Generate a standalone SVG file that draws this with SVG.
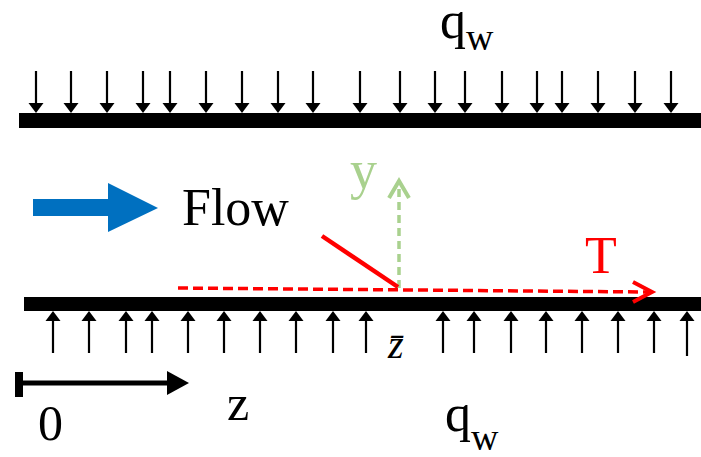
<svg xmlns="http://www.w3.org/2000/svg" width="701" height="457" viewBox="0 0 701 457">
<style>
.lbl{font-family:"Liberation Serif","Times New Roman",serif;fill:#000}
.flux{stroke:#000;stroke-width:2.2;fill:none}
.wall{fill:#000}
</style>
<defs>
<path id="hdDown" d="M-7.5,-10 L7.5,-10 L0,0 Z" fill="#000"/>
<path id="hdUp" d="M-7.5,10 L7.5,10 L0,0 Z" fill="#000"/>
</defs>
<rect width="701" height="457" fill="#fff"/>

<g id="top-wall">
<rect class="wall" x="19" y="113" width="682" height="15"/>
</g>
<g id="bottom-wall">
<rect class="wall" x="24" y="297" width="677" height="14"/>
</g>

<g id="connectors">
<g id="top-flux">
<path class="flux" d="M36,71V104M71,71V104M107,71V104M143,71V104M170,71V104M206,71V104M242,71V104M278,71V104M313,71V104M360,71V104M400,71V104M435,71V104M465,71V104M502,71V104M537,71V104M562,71V104M598,71V104M635,71V104M671,71V104"/>
<use href="#hdDown" x="36" y="113"/>
<use href="#hdDown" x="71" y="113"/>
<use href="#hdDown" x="107" y="113"/>
<use href="#hdDown" x="143" y="113"/>
<use href="#hdDown" x="170" y="113"/>
<use href="#hdDown" x="206" y="113"/>
<use href="#hdDown" x="242" y="113"/>
<use href="#hdDown" x="278" y="113"/>
<use href="#hdDown" x="313" y="113"/>
<use href="#hdDown" x="360" y="113"/>
<use href="#hdDown" x="400" y="113"/>
<use href="#hdDown" x="435" y="113"/>
<use href="#hdDown" x="465" y="113"/>
<use href="#hdDown" x="502" y="113"/>
<use href="#hdDown" x="537" y="113"/>
<use href="#hdDown" x="562" y="113"/>
<use href="#hdDown" x="598" y="113"/>
<use href="#hdDown" x="635" y="113"/>
<use href="#hdDown" x="671" y="113"/>
</g>
<g id="bottom-flux">
<path class="flux" d="M53,353V320M89,353V320M126,353V320M152,353V320M188,353V320M224,353V320M260,353V320M296,353V320M333,353V320M366,353V320M443,353V320M474,353V320M511,353V320M546,353V320M582,353V320M618,353V320M654,353V320M687,356V320"/>
<use href="#hdUp" x="53" y="311"/>
<use href="#hdUp" x="89" y="311"/>
<use href="#hdUp" x="126" y="311"/>
<use href="#hdUp" x="152" y="311"/>
<use href="#hdUp" x="188" y="311"/>
<use href="#hdUp" x="224" y="311"/>
<use href="#hdUp" x="260" y="311"/>
<use href="#hdUp" x="296" y="311"/>
<use href="#hdUp" x="333" y="311"/>
<use href="#hdUp" x="366" y="311"/>
<use href="#hdUp" x="443" y="311"/>
<use href="#hdUp" x="474" y="311"/>
<use href="#hdUp" x="511" y="311"/>
<use href="#hdUp" x="546" y="311"/>
<use href="#hdUp" x="582" y="311"/>
<use href="#hdUp" x="618" y="311"/>
<use href="#hdUp" x="654" y="311"/>
<use href="#hdUp" x="687" y="311"/>
</g>
<g id="T-axis">
<line x1="178" y1="288" x2="650" y2="292" stroke="#FF0000" stroke-width="3.5" stroke-dasharray="10,5"/>
<polyline points="633,282 652,292 633,302" fill="none" stroke="#FF0000" stroke-width="4"/>
</g>
<g id="y-axis">
<line x1="399" y1="288" x2="399" y2="182" stroke="#A9D18E" stroke-width="3.5" stroke-dasharray="8,5"/>
<polyline points="389,198 399,181 409,198" fill="none" stroke="#A9D18E" stroke-width="4"/>
</g>
<line id="profile" x1="322" y1="236" x2="398" y2="287" stroke="#FF0000" stroke-width="4.5"/>
</g>

<g id="flow">
<polygon points="33,199 108,199 108,183 158,208 108,232 108,216 33,216" fill="#0070C0"/>
<text class="lbl" x="182" y="225" font-size="52">Flow</text>
</g>

<g id="z-scale">
<rect x="15" y="372" width="8" height="25" fill="#000"/>
<line x1="23" y1="383" x2="168" y2="383" stroke="#000" stroke-width="5"/>
<polygon points="167,371 189,383 167,395" fill="#000"/>
<text class="lbl" x="38" y="440" font-size="50">0</text>
<text class="lbl" x="227" y="420" font-size="50">z</text>
</g>

<g id="labels">
<text class="lbl" x="440" y="38" font-size="52">q<tspan font-size="38" dy="12">w</tspan></text>
<text class="lbl" x="445" y="431" font-size="52">q<tspan font-size="38" dy="19">w</tspan></text>
<text class="lbl" x="350" y="188" font-size="54" style="fill:#A9D18E">y</text>
<text class="lbl" x="585" y="273" font-size="52" style="fill:#FF0000">T</text>
<text class="lbl" x="388" y="358" font-size="40" font-style="italic">z̄</text>
</g>
</svg>
